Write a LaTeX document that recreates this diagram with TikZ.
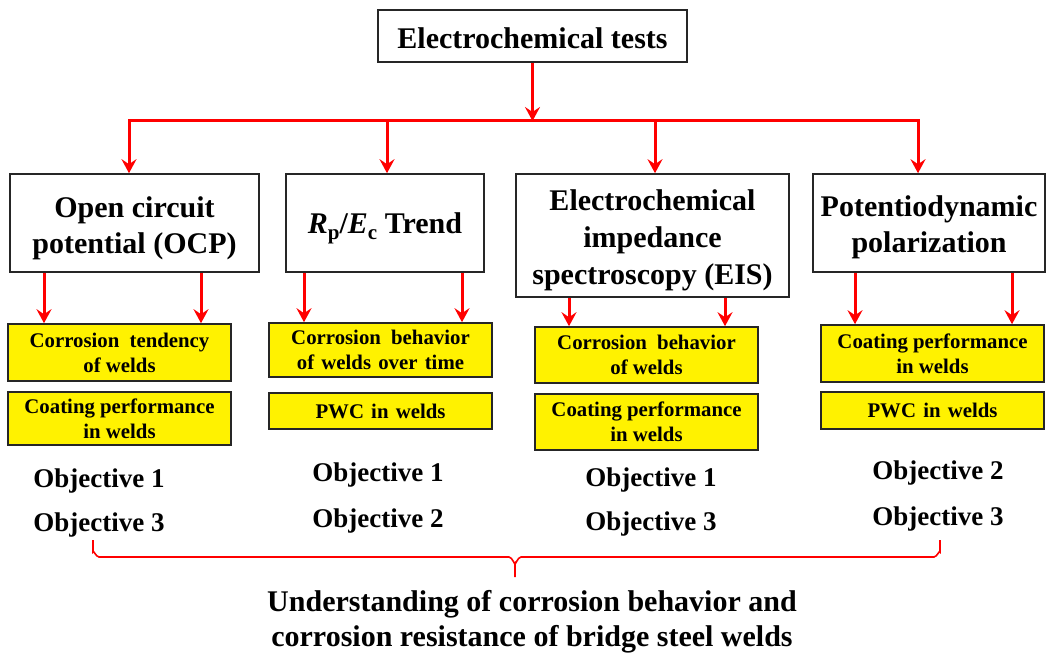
\documentclass[tikz,border=0pt]{standalone}
\usepackage{fontspec}
\setmainfont{Liberation Serif}
\usetikzlibrary{arrows.meta,calc}
\newcommand{\topstrut}[1]{\rule{0pt}{#1}}
\begin{document}
\begin{tikzpicture}[x=1pt,y=-1pt,
 bigbox/.style={draw=black!85,line width=1.6pt,fill=white,align=center,inner sep=0pt,font=\fontsize{30}{36}\selectfont\bfseries},
 ybox/.style={draw=black!85,line width=1.6pt,fill=yellow,align=center,inner sep=0pt,minimum width=223pt,font=\fontsize{20.8}{25}\selectfont\bfseries},
 objtext/.style={font=\fontsize{27}{32}\selectfont\bfseries,inner sep=0pt},
 redarrow/.style={draw=red,line width=3pt,-{Stealth[length=14pt,width=15pt,inset=5pt]}},
 redline/.style={draw=red,line width=3pt},
 bracestyle/.style={draw=red,line width=1.6pt},
 concltext/.style={font=\fontsize{30}{35}\selectfont\bfseries,align=center,inner sep=0pt}
]
\fill[white] (0,0) rectangle (1048,655);
\useasboundingbox (0,0) rectangle (1048,655);

% top
\node[bigbox,minimum width=309pt,minimum height=52pt] (title) at (532.5,36) {\topstrut{25pt}Electrochemical tests};

% methods
\node[bigbox,minimum width=249pt,minimum height=98pt] (ocp) at (134.5,223) {\topstrut{31pt}Open circuit\\potential (OCP)};
\node[bigbox,minimum width=198pt,minimum height=98pt] (rp) at (385,223) {\topstrut{31pt}{\itshape R}\raisebox{-6pt}{\fontsize{21}{21}\selectfont p}/{\itshape E}\raisebox{-6pt}{\fontsize{21}{21}\selectfont c} Trend};
\node[bigbox,minimum width=273pt,minimum height=123pt,font=\fontsize{30}{37}\selectfont\bfseries] (eis) at (652.5,235.5) {\topstrut{31pt}Electrochemical\\impedance\\spectroscopy (EIS)};
\node[bigbox,minimum width=232pt,minimum height=98pt] (pd) at (929,223) {\topstrut{29pt}Potentiodynamic\\polarization};

% yellow boxes
\node[ybox,minimum height=57pt] (y11) at (119.5,352.5) {Corrosion\hspace{5pt} tendency\\of welds};
\node[ybox,minimum height=53pt] (y12) at (119.5,418.5) {Coating performance\\in welds};
\node[ybox,minimum height=54pt] (y21) at (380.5,350) {Corrosion\hspace{5pt} behavior\\of\hspace{2pt} welds\hspace{2pt} over\hspace{2pt} time};
\node[ybox,minimum height=36pt] (y22) at (380.5,411) {PWC\hspace{2pt} in\hspace{2pt} welds};
\node[ybox,minimum height=56pt] (y31) at (646.5,355) {Corrosion\hspace{5pt} behavior\\of welds};
\node[ybox,minimum height=56pt] (y32) at (646.5,422) {Coating performance\\in welds};
\node[ybox,minimum height=57pt] (y41) at (932.5,353.5) {Coating performance\\in welds};
\node[ybox,minimum height=37pt] (y42) at (932.5,410.5) {PWC\hspace{2pt} in\hspace{2pt} welds};

% bus
\coordinate (b1) at (129,121);
\coordinate (b2) at (387,121);
\coordinate (b3) at (655,121);
\coordinate (b4) at (918,121);
\draw[redarrow] (title.south) -- (title.south |- b1);
\draw[redline] (b2) -- (b3);
\draw[redarrow,line join=miter] (b2) -| (ocp.north -| b1);
\draw[redarrow,line join=miter] (b3) -| (pd.north -| b4);
\draw[redarrow] (b2) -- (rp.north -| b2);
\draw[redarrow] (b3) -- (eis.north -| b3);

% small arrows
\coordinate (a11) at (44,0);
\coordinate (a12) at (201,0);
\coordinate (a21) at (304,0);
\coordinate (a22) at (462,0);
\coordinate (a31) at (569,0);
\coordinate (a32) at (725,0);
\coordinate (a41) at (855,0);
\coordinate (a42) at (1012,0);
\draw[redarrow] (ocp.south -| a11) -- (y11.north -| a11);
\draw[redarrow] (ocp.south -| a12) -- (y11.north -| a12);
\draw[redarrow] (rp.south -| a21) -- (y21.north -| a21);
\draw[redarrow] (rp.south -| a22) -- (y21.north -| a22);
\draw[redarrow] (eis.south -| a31) -- (y31.north -| a31);
\draw[redarrow] (eis.south -| a32) -- (y31.north -| a32);
\draw[redarrow] (pd.south -| a41) -- (y41.north -| a41);
\draw[redarrow] (pd.south -| a42) -- (y41.north -| a42);

% objectives
\node[objtext] (o11) at (99,481) {Objective 1};
\node[objtext] (o13) at (99,525) {Objective 3};
\node[objtext] (o21) at (378,475) {Objective 1};
\node[objtext] (o22) at (378,521) {Objective 2};
\node[objtext] (o31) at (651,480) {Objective 1};
\node[objtext] (o33) at (651,524) {Objective 3};
\node[objtext] (o42) at (938,473) {Objective 2};
\node[objtext] (o43) at (938,519) {Objective 3};

% brace
\draw[bracestyle] (93,540) -- (93,552) to[out=90,in=180] (99,557) -- (509,557)
  to[out=0,in=-90] (515,563) -- (515,577);
\draw[bracestyle] (940,540) -- (940,552) to[out=90,in=0] (934,557) -- (521,557)
  to[out=180,in=-90] (515,563);

% conclusion
\node[concltext] (concl) at (532,622) {Understanding of corrosion behavior and\\corrosion resistance of bridge steel welds};
\end{tikzpicture}
\end{document}
